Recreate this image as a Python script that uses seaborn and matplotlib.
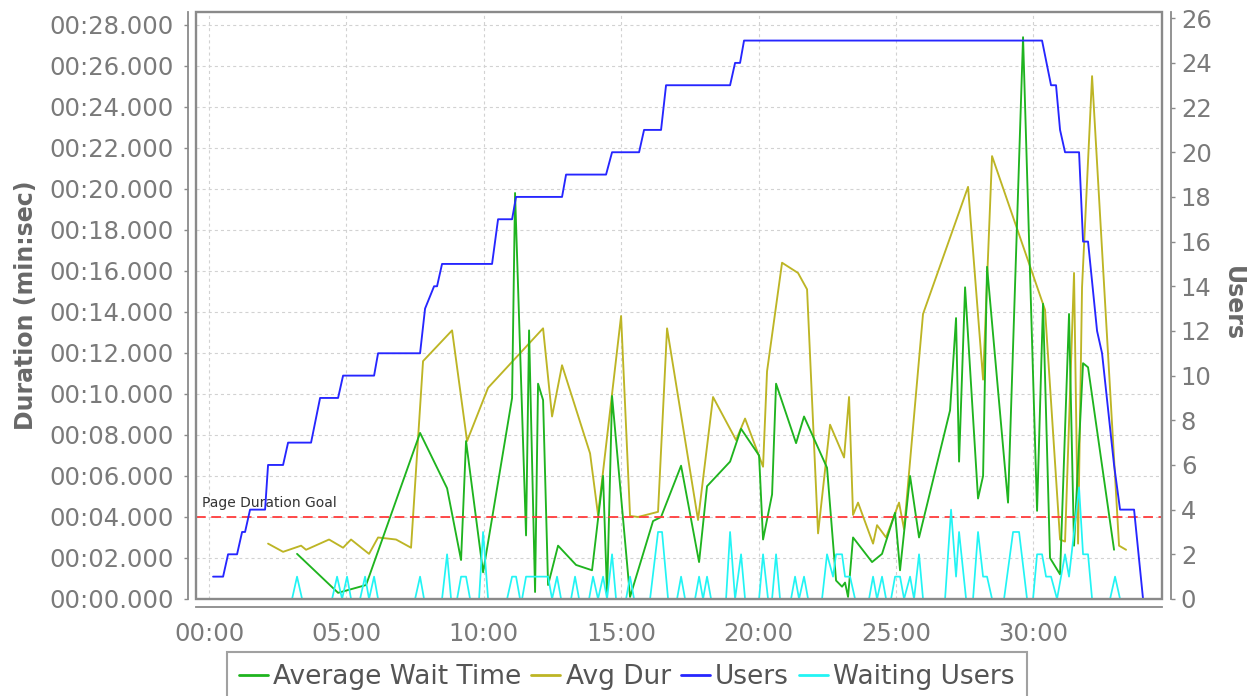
import matplotlib
matplotlib.use("Agg")
import matplotlib.pyplot as plt
from matplotlib.ticker import FuncFormatter, MultipleLocator
from matplotlib.lines import Line2D
from matplotlib.patches import Rectangle
import pandas as pd
import seaborn as sns

# ---- Load-test samples (time in seconds from test start) ----
# Average wait time per page (seconds)
wait_time_t = [192.1, 281.7, 342.8, 460.7, 519.7, 550.2, 561.1, 598.3, 661.6, 668.1,
               692.1, 698.7, 711.8, 718.3, 729.3, 740.2, 762.0, 801.3, 836.2, 860.3,
               869.0, 879.9, 919.2, 969.4, 986.9, 1030.6, 1069.9, 1087.3, 1137.6, 1161.6,
               1200.9, 1209.6, 1229.3, 1238.0, 1281.7, 1299.1, 1349.3, 1369.0, 1382.1, 1388.6,
               1395.2, 1406.1, 1447.6, 1469.4, 1497.8, 1508.7, 1530.6, 1550.2, 1617.9, 1631.0,
               1637.6, 1650.7, 1679.0, 1690.0, 1698.7, 1744.5, 1777.3, 1807.9, 1820.9, 1836.2,
               1858.1, 1877.7, 1888.6, 1908.3, 1919.2, 1976.0]
wait_time_s = [2.2, 0.3, 0.68, 8.1, 5.4, 1.9, 7.7, 1.3, 9.8, 19.8,
               3.1, 13.1, 0.34, 10.5, 9.7, 0.68, 2.6, 1.66, 1.4, 6.0,
               0.2, 9.9, 0.1, 3.8, 4.0, 6.5, 1.8, 5.5, 6.7, 8.3,
               7.0, 2.9, 5.1, 10.5, 7.6, 8.9, 6.4, 0.9, 0.6, 0.8,
               0.1, 3.0, 1.8, 2.2, 4.2, 1.4, 6.0, 3.0, 9.2, 13.7,
               6.7, 15.2, 4.9, 6.0, 16.2, 4.7, 27.4, 4.3, 14.4, 2.0,
               1.2, 13.9, 2.6, 11.5, 11.3, 2.4]

# Average page duration (seconds)
avg_dur_t = [128.8, 161.6, 200.9, 211.8, 262.0, 292.6, 310.0, 349.3, 369.0, 408.3,
             441.0, 467.2, 530.6, 563.3, 609.2, 729.3, 748.9, 770.7, 831.9, 849.3,
             899.6, 919.2, 936.7, 980.3, 1000.0, 1067.7, 1100.4, 1150.7, 1170.3, 1209.6,
             1218.3, 1251.1, 1286.0, 1305.7, 1329.7, 1355.9, 1386.5, 1397.4, 1406.1, 1417.0,
             1449.8, 1458.5, 1478.2, 1506.5, 1517.5, 1558.9, 1657.2, 1690.0, 1709.6, 1825.3,
             1858.1, 1869.0, 1888.6, 1897.4, 1906.1, 1928.0, 1986.9, 2002.2]
avg_dur_s = [2.7, 2.3, 2.6, 2.4, 2.9, 2.5, 2.9, 2.2, 3.0, 2.9,
             2.5, 11.6, 13.1, 7.7, 10.3, 13.2, 8.9, 11.4, 7.1, 4.1,
             13.8, 4.05, 4.0, 4.25, 13.2, 3.85, 9.85, 7.75, 8.8, 6.45,
             11.1, 16.4, 15.9, 15.1, 3.2, 8.5, 6.9, 9.85, 4.1, 4.7,
             2.7, 3.6, 3.0, 4.7, 3.4, 13.9, 20.1, 10.7, 21.6, 14.1,
             2.9, 2.8, 15.9, 2.7, 15.2, 25.5, 2.6, 2.4]

# Active virtual users
users_t = [8.7, 30.6, 41.5, 61.1, 72.1, 78.6, 89.5, 122.3, 128.8, 161.6,
           172.5, 222.7, 242.4, 281.7, 292.6, 360.3, 369.0, 460.7, 471.6, 491.3,
           497.8, 508.7, 617.9, 631.0, 661.6, 670.3, 770.7, 779.5, 866.8, 879.9,
           938.9, 949.8, 986.9, 997.8, 1137.6, 1148.5, 1159.4, 1168.1, 1818.8, 1838.4,
           1849.3, 1858.1, 1869.0, 1899.6, 1908.3, 1919.2, 1938.9, 1949.8, 1976.0, 1989.1,
           2019.7, 2039.3]
users_n = [1, 1, 2, 2, 3, 3, 4, 4, 6, 6,
           7, 7, 9, 9, 10, 10, 11, 11, 13, 14,
           14, 15, 15, 17, 17, 18, 18, 19, 19, 20,
           20, 21, 21, 23, 23, 24, 24, 25, 25, 23,
           23, 21, 20, 20, 16, 16, 12, 11, 6, 4,
           4, 0]

# Users waiting for a page
waiting_t = [8.7, 181.2, 192.1, 203.1, 268.6, 279.5, 290.4, 301.3, 310.0, 329.7,
             340.6, 349.3, 360.3, 369.0, 449.8, 460.7, 469.4, 508.7, 519.7, 528.4,
             541.5, 550.2, 561.1, 569.9, 589.5, 598.3, 609.2, 650.7, 661.6, 670.3,
             679.0, 683.4, 692.1, 740.2, 748.9, 759.8, 768.6, 790.4, 799.1, 807.9,
             829.7, 838.4, 849.3, 860.3, 869.0, 879.9, 888.6, 910.5, 919.2, 927.9,
             962.9, 980.3, 989.1, 1002.2, 1021.8, 1030.6, 1039.3, 1061.1, 1069.9, 1078.6,
             1087.3, 1096.1, 1128.8, 1137.6, 1148.5, 1161.6, 1170.3, 1200.9, 1209.6, 1220.5,
             1229.3, 1238.0, 1246.7, 1270.7, 1279.5, 1288.2, 1299.1, 1307.9, 1338.4, 1349.3,
             1362.4, 1369.0, 1382.1, 1388.6, 1399.6, 1410.5, 1441.0, 1449.8, 1458.5, 1469.4,
             1478.2, 1489.1, 1497.8, 1508.7, 1517.5, 1530.6, 1539.3, 1550.2, 1558.9, 1607.0,
             1620.1, 1631.0, 1637.6, 1652.9, 1668.1, 1679.0, 1690.0, 1698.7, 1709.6, 1735.8,
             1755.5, 1768.6, 1786.0, 1799.1, 1807.9, 1818.8, 1827.5, 1838.4, 1851.5, 1869.0,
             1877.7, 1899.6, 1908.3, 1919.2, 1928.0, 1967.3, 1978.2, 1989.1, 2039.3]
waiting_n = [0, 0, 1, 0, 0, 1, 0, 1, 0, 0,
             1, 0, 1, 0, 0, 1, 0, 0, 2, 0,
             0, 1, 1, 0, 0, 3, 0, 0, 1, 1,
             0, 0, 1, 1, 0, 1, 0, 0, 1, 0,
             0, 1, 0, 1, 0, 2, 0, 0, 1, 0,
             0, 3, 3, 0, 0, 1, 0, 0, 1, 0,
             1, 0, 0, 3, 0, 2, 0, 0, 2, 0,
             0, 2, 0, 0, 1, 0, 1, 0, 0, 2,
             1, 2, 2, 1, 1, 0, 0, 1, 0, 1,
             0, 0, 1, 1, 0, 1, 0, 2, 0, 0,
             4, 1, 3, 0, 0, 3, 1, 1, 0, 0,
             3, 3, 0, 0, 2, 2, 1, 1, 0, 2,
             1, 5, 2, 2, 0, 0, 1, 0, 0]

goal_s = 4.0
series_labels = ["Average Wait Time", "Avg Dur", "Users", "Waiting Users"]

GREEN = "#1fb41f"
OLIVE = "#bdb525"
BLUE = "#2626ff"
CYAN = "#22f4f4"
RED = "#ff3c3c"
AXIS_GRAY = "#8a8a8a"
TICK_TEXT = "#7a7a7a"
LABEL_TEXT = "#686868"

sns.set_style("white")
plt.rcParams["font.family"] = ["DejaVu Sans"]
plt.rcParams["lines.scale_dashes"] = False

fig = plt.figure(figsize=(12.56, 6.96), dpi=100)
ax = fig.add_axes([0.1561, 0.1394, 0.7691, 0.8434])
ax2 = ax.twinx()

dur_df = pd.DataFrame({"t": avg_dur_t, "v": avg_dur_s})
wait_df = pd.DataFrame({"t": wait_time_t, "v": wait_time_s})
users_df = pd.DataFrame({"t": users_t, "v": users_n})
waiting_df = pd.DataFrame({"t": waiting_t, "v": waiting_n})

lw = 1.35
sns.lineplot(data=dur_df, x="t", y="v", ax=ax, color=OLIVE, lw=lw, estimator=None, sort=False)
sns.lineplot(data=wait_df, x="t", y="v", ax=ax, color=GREEN, lw=lw, estimator=None, sort=False)
ax.axhline(goal_s, color=RED, lw=1.3, dashes=(7, 4), zorder=5)
ax.annotate("Page Duration Goal", xy=(0, goal_s), xycoords=ax.get_yaxis_transform(),
            xytext=(6, 10), textcoords="offset pixels", fontsize=10, color="#333333",
            va="baseline", ha="left")

sns.lineplot(data=waiting_df, x="t", y="v", ax=ax2, color=CYAN, lw=1.25, estimator=None, sort=False)
sns.lineplot(data=users_df, x="t", y="v", ax=ax2, color=BLUE, lw=lw, estimator=None, sort=False)

# Scales
ax.set_xlim(-28.4, 2080.8)
ax.set_ylim(0, 28.63)
ax2.set_ylim(0, 26.28)
ax.xaxis.set_major_locator(MultipleLocator(300))
ax.yaxis.set_major_locator(MultipleLocator(2))
ax2.yaxis.set_major_locator(MultipleLocator(2))
ax.xaxis.set_major_formatter(FuncFormatter(lambda v, p: f"{int(v // 60):02d}:{int(round(v % 60)):02d}"))
ax.yaxis.set_major_formatter(FuncFormatter(lambda v, p: f"00:{int(round(v)):02d}.000"))
ax2.yaxis.set_major_formatter(FuncFormatter(lambda v, p: f"{int(round(v))}"))

# Grid
ax.grid(True, color="#d2d2d2", ls=(0, (2.2, 2.2)), lw=0.8)
ax.set_axisbelow(True)
ax2.grid(False)

# Offset axis lines plus a separate plot outline
for s in ["top", "right"]:
    ax.spines[s].set_visible(False)
for s in ["top", "left", "bottom"]:
    ax2.spines[s].set_visible(False)
ax.spines["left"].set_position(("outward", 5.8))
ax.spines["bottom"].set_position(("outward", 5.8))
ax2.spines["right"].set_position(("outward", 6.5))
for sp in [ax.spines["left"], ax.spines["bottom"], ax2.spines["right"]]:
    sp.set_color(AXIS_GRAY)
    sp.set_linewidth(1.3)
ax2.add_patch(Rectangle((0, 0), 1, 1, transform=ax2.transAxes, fill=False,
                        edgecolor=AXIS_GRAY, lw=1.7, clip_on=False, zorder=10))

ax.tick_params(axis="both", direction="out", length=3, width=1, color=AXIS_GRAY,
               labelcolor=TICK_TEXT, labelsize=17.5)
ax.tick_params(axis="y", pad=7)
ax.tick_params(axis="x", pad=8)
ax2.tick_params(axis="y", direction="out", length=3, width=1, color=AXIS_GRAY,
                labelcolor=TICK_TEXT, labelsize=17.5, pad=4)

ax.set_xlabel("")
ax.set_ylabel("Duration (min:sec)", fontsize=17, fontweight="bold", color=LABEL_TEXT, va="center")
ax.yaxis.set_label_coords(-0.176, 0.5)
ax2.set_ylabel("Users", fontsize=17, fontweight="bold", color=LABEL_TEXT, rotation=270, va="center")
ax2.yaxis.set_label_coords(1.0735, 0.504)

handles = [Line2D([], [], color=c, lw=2) for c in [GREEN, OLIVE, BLUE, CYAN]]
leg = fig.legend(handles, series_labels, loc="upper left",
                 bbox_to_anchor=(227 / 1256, 1 - 652 / 696), bbox_transform=fig.transFigure,
                 ncol=4, fontsize=19, frameon=True, fancybox=False, edgecolor=AXIS_GRAY,
                 handlelength=1.1, handletextpad=0.2, columnspacing=0.38, borderpad=0.45,
                 borderaxespad=0, labelcolor="#555555")
leg.get_frame().set_linewidth(1.5)

fig.savefig("out.png", dpi=100)
